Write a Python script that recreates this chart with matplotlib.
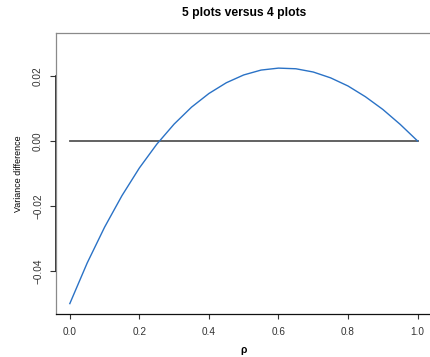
import matplotlib
matplotlib.use("Agg")
import matplotlib.pyplot as plt

plt.rcParams['font.family'] = ['Liberation Sans', 'DejaVu Sans']

# values
rho = [0.00, 0.05, 0.10, 0.15, 0.20, 0.25, 0.30, 0.35, 0.40, 0.45, 0.50,
       0.55, 0.60, 0.65, 0.70, 0.75, 0.80, 0.85, 0.90, 0.95, 1.00]
var_diff = [-0.0500, -0.0375, -0.0265, -0.0168, -0.0083, -0.0010, 0.0052,
            0.0104, 0.0146, 0.0179, 0.0203, 0.0218, 0.0224, 0.0222, 0.0212,
            0.0194, 0.0169, 0.0136, 0.0097, 0.0051, 0.0000]
zero_x = [0.0, 1.0]
zero_y = [0.0, 0.0]
xticks = [0.0, 0.2, 0.4, 0.6, 0.8, 1.0]
yticks = [-0.04, -0.02, 0.00, 0.02]

fig = plt.figure(figsize=(4.30, 3.57), dpi=100)
ax = fig.add_axes([0.130, 0.1204, 0.8735, 0.7872])

ax.plot(zero_x, zero_y, color="#555555", lw=1.3)
ax.plot(rho, var_diff, color="#2a72c6", lw=1.0, solid_joinstyle="round")

ax.set_xlim(-0.04, 1.04)
ax.set_ylim(-0.0532, 0.0332)

ax.set_xticks(xticks)
ax.set_xticklabels([f"{t:.1f}" for t in xticks])
ax.set_yticks(yticks)
ax.set_yticklabels([f"{t:.2f}".replace("-", "\u2212") for t in yticks],
                   rotation=90, va="center")
ax.tick_params(axis="x", length=3.6, width=0.8, pad=5.5, labelsize=7.2,
               colors="#333333")
ax.tick_params(axis="y", length=4.2, width=0.8, pad=5.0, labelsize=7.2,
               colors="#333333")

for side in ["top", "left", "right"]:
    ax.spines[side].set_color("#8a8a8a")
    ax.spines[side].set_linewidth(0.9)
ax.spines["bottom"].set_color("#111111")
ax.spines["bottom"].set_linewidth(0.9)
# R-style axis line over the tick range
ax.plot([-0.04, -0.04], [yticks[0], yticks[-1]], color="#111111", lw=1.2,
        clip_on=False)

ax.set_title("5 plots versus 4 plots", fontsize=8.7, fontweight="bold", pad=12)
ax.set_xlabel("\u03c1", fontsize=7.5, fontweight="bold", labelpad=6)
ax.set_ylabel("Variance difference", fontsize=6.4, labelpad=7)

fig.savefig("out.png", dpi=100)
